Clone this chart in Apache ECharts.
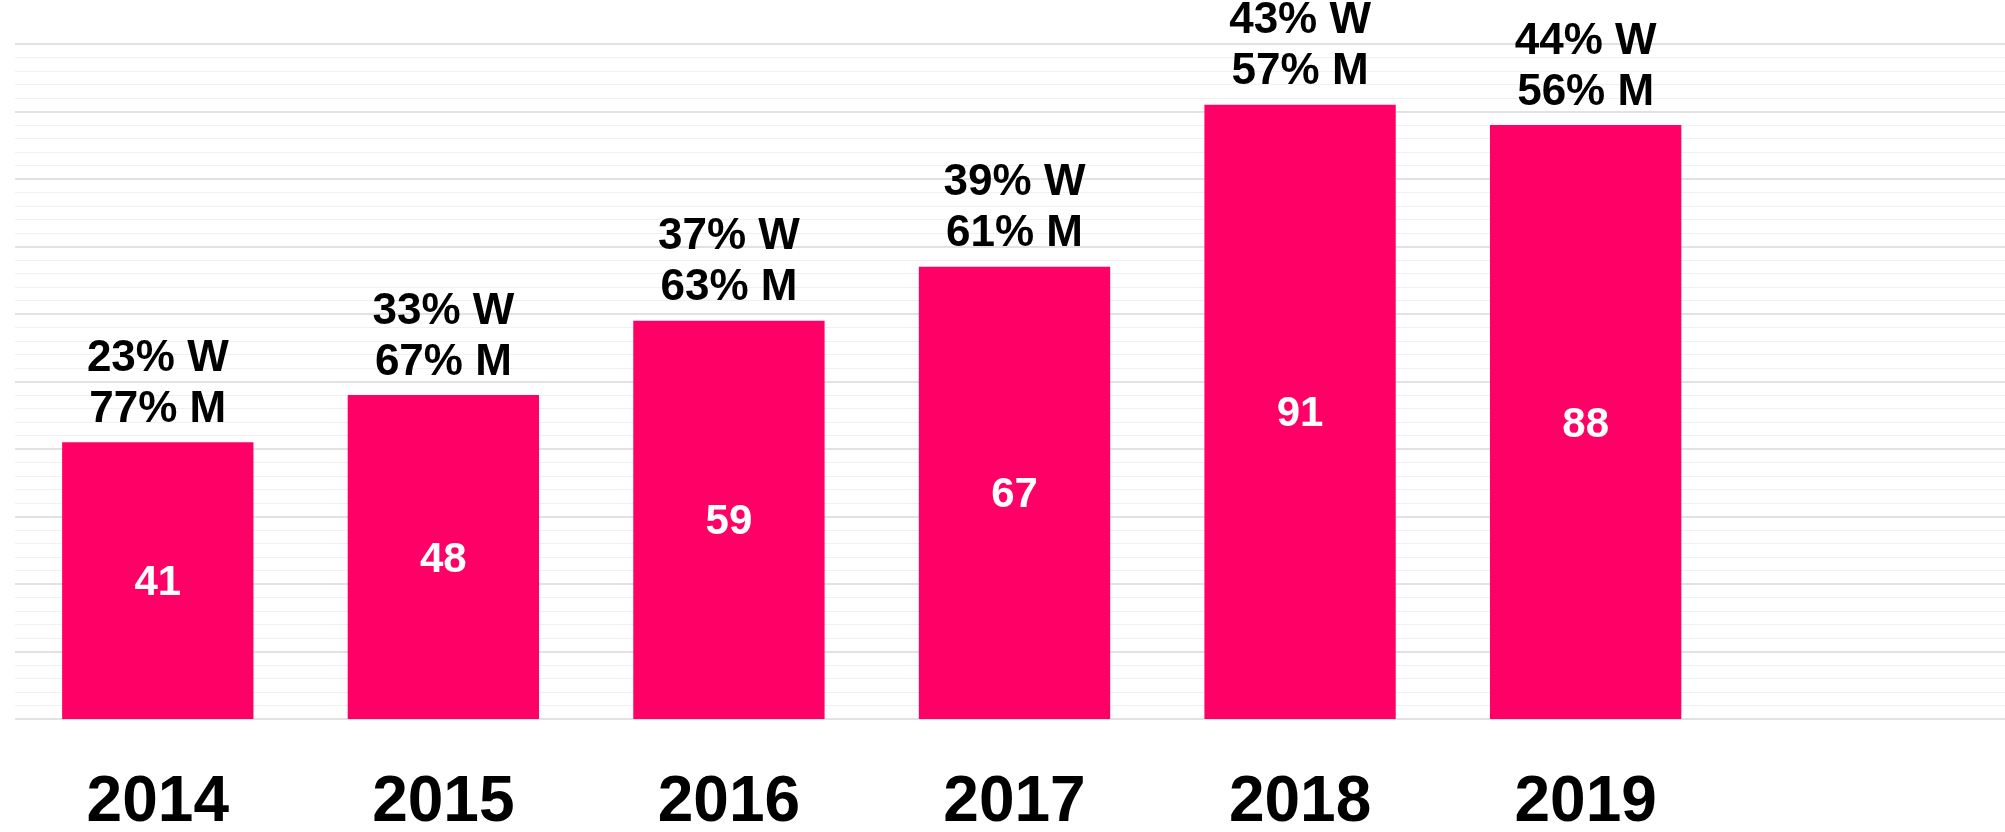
<!DOCTYPE html>
<html>
<head>
<meta charset="utf-8">
<script src="https://cdn.jsdelivr.net/npm/echarts@6/dist/echarts.min.js"></script>
<style>
html,body{margin:0;padding:0;background:#fff;}
#chart{width:2005px;height:832px;}
</style>
</head>
<body>
<div id="chart"></div>
<script>
var categories = ['2014', '2015', '2016', '2017', '2018', '2019', ''];
var totals = [41, 48, 59, 67, 91, 88];
var womenPct = [23, 33, 37, 39, 43, 44];
var menPct = [77, 67, 63, 61, 57, 56];

var FONT = '"Liberation Sans", Arial, sans-serif';
var chart = echarts.init(document.getElementById('chart'), null, {renderer: 'canvas'});

chart.setOption({
  animation: false,
  backgroundColor: '#ffffff',
  grid: {left: 15, width: 1999, top: 44, bottom: 113, containLabel: false, outerBoundsMode: 'none'},
  xAxis: {
    type: 'category',
    data: categories,
    axisLine: {show: false},
    axisTick: {show: false},
    axisLabel: {
      margin: 52,
      fontFamily: FONT,
      fontWeight: 'bold',
      fontSize: 64,
      color: '#000000'
    }
  },
  yAxis: {
    type: 'value',
    min: 0,
    max: 100,
    interval: 10,
    axisLine: {show: false},
    axisTick: {show: false},
    axisLabel: {show: false},
    splitLine: {show: true, lineStyle: {color: '#d9d9d9', width: 1.5}},
    minorTick: {show: false, splitNumber: 5},
    minorSplitLine: {show: true, lineStyle: {color: '#f0f0f0', width: 1}}
  },
  series: [
    {
      type: 'bar',
      data: totals,
      barWidth: '67%',
      barGap: '-100%',
      itemStyle: {color: '#ff0066'},
      label: {
        show: true,
        position: 'inside',
        offset: [0, 3],
        fontFamily: FONT,
        fontWeight: 'bold',
        fontSize: 42,
        color: '#ffffff'
      },
      z: 2
    },
    {
      type: 'bar',
      data: totals,
      barWidth: '67%',
      barGap: '-100%',
      itemStyle: {color: 'rgba(0,0,0,0)'},
      label: {
        show: true,
        position: 'top',
        distance: 7,
        fontFamily: FONT,
        fontWeight: 'bold',
        fontSize: 44,
        lineHeight: 51,
        color: '#000000',
        formatter: function (p) {
          return womenPct[p.dataIndex] + '% W\n' + menPct[p.dataIndex] + '% M';
        }
      },
      z: 3
    }
  ]
});
</script>
</body>
</html>
